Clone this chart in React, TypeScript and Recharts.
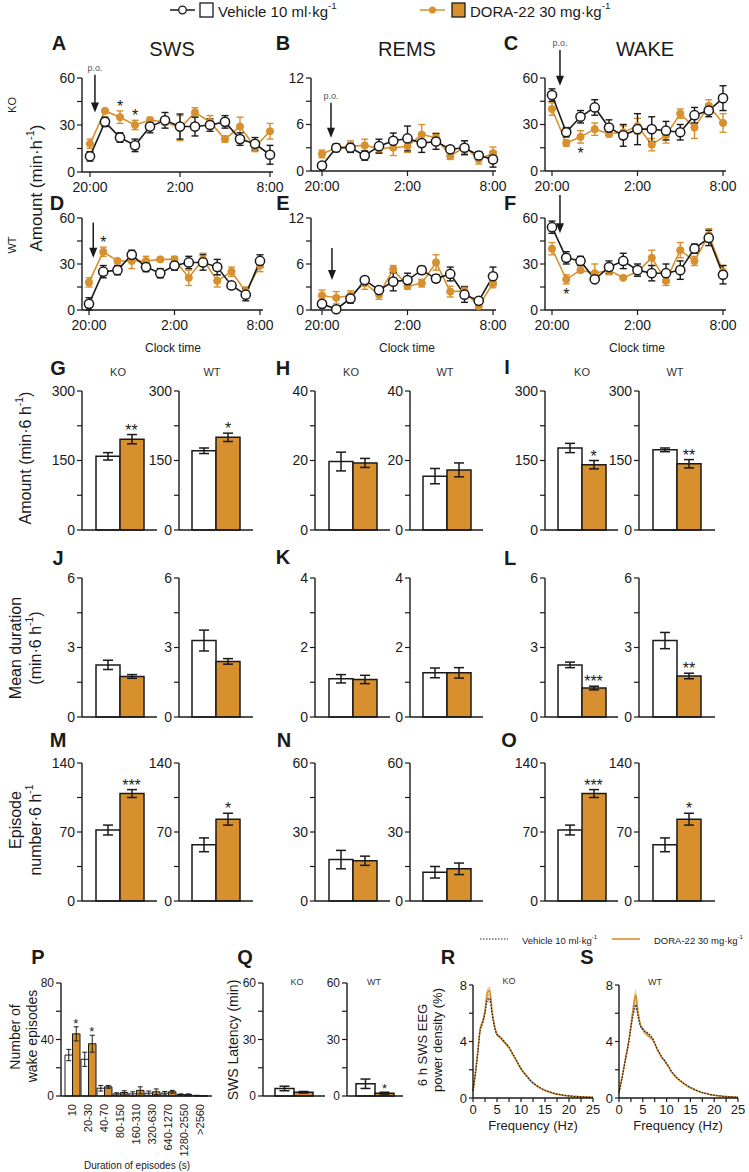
import React from 'react';
import { ComposedChart, Bar, Line, Area, XAxis, YAxis, ErrorBar, ReferenceLine } from 'recharts';

const FONT = '"Liberation Sans", Arial, Helvetica, sans-serif';
const ORANGE = '#d8902f';
const INK = '#1a1a1a';

// hourly bins, lights off 20:00 -> 8:00
const clockLabels = ['20:00', '21:00', '22:00', '23:00', '0:00', '1:00', '2:00', '3:00', '4:00', '5:00', '6:00', '7:00', '8:00'];
const clockTicks = [0, 6, 12];

// A  SWS KO (min/h)
const swsKoVeh = [10, 32, 22, 17, 29, 33, 29, 29, 30, 32, 21, 18, 11];
const swsKoVehSem = [3, 3, 3, 4, 4, 5, 8, 6, 4, 4, 4, 4, 6];
const swsKoDora = [18, 39, 35, 30, 33, 32, 28, 38, 32, 21, 29, 16, 26];
const swsKoDoraSem = [3, 1, 4, 3, 2, 2, 8, 3, 4, 2, 6, 3, 5];
const swsKoStars = ['', '', '*', '*', '', '', '', '', '', '', '', '', ''];

// B  REMS KO
const remsKoVeh = [0.7, 3.0, 3.0, 2.0, 3.2, 3.9, 4.2, 3.6, 3.8, 2.8, 3.0, 2.0, 1.5];
const remsKoVehSem = [0.2, 0.5, 0.6, 0.6, 0.9, 1.0, 1.6, 1.2, 1.0, 0.3, 0.9, 0.5, 1.0];
const remsKoDora = [2.2, 3.0, 3.2, 3.3, 2.9, 3.0, 3.2, 4.7, 4.3, 1.9, 3.1, 1.5, 2.3];
const remsKoDoraSem = [0.5, 0.4, 0.7, 0.8, 0.5, 1.0, 0.8, 1.3, 0.6, 0.4, 0.8, 0.6, 0.8];

// C  WAKE KO
const wakeKoVeh = [49, 25, 35, 41, 28, 23, 27, 27, 26, 25, 36, 39, 47];
const wakeKoVehSem = [4, 3, 4, 5, 5, 7, 10, 8, 6, 5, 5, 4, 8];
const wakeKoDora = [40, 18, 22, 27, 24, 25, 29, 17, 23, 37, 28, 42, 31];
const wakeKoDoraSem = [4, 2, 4, 4, 2, 4, 5, 4, 5, 3, 7, 4, 6];
const wakeKoStars = ['', '', '*', '', '', '', '', '', '', '', '', '', ''];

// D  SWS WT
const swsWtVeh = [4, 25, 26, 36, 28, 24, 29, 31, 31, 28, 16, 10, 32];
const swsWtVehSem = [4, 4, 3, 3, 3, 3, 3, 4, 5, 5, 2, 4, 4];
const swsWtDora = [18, 38, 32, 32, 32, 33, 33, 21, 33, 19, 25, 12, 29];
const swsWtDoraSem = [3, 3, 1, 5, 3, 1, 2, 5, 4, 4, 3, 3, 4];
const swsWtStars = ['', '*', '', '', '', '', '', '', '', '', '', '', ''];

// E  REMS WT
const remsWtVeh = [0.8, 0.1, 1.5, 3.9, 2.6, 3.7, 3.9, 5.2, 4.1, 4.7, 2.0, 1.2, 4.4];
const remsWtVehSem = [0.4, 0.1, 0.6, 0.3, 0.3, 1.2, 0.9, 0.5, 0.5, 0.9, 1.0, 0.3, 1.2];
const remsWtDora = [1.9, 1.6, 1.9, 3.5, 2.0, 5.3, 3.1, 3.5, 6.2, 2.4, 2.5, 0.5, 3.5];
const remsWtDoraSem = [0.7, 0.8, 0.6, 0.8, 0.6, 0.5, 0.4, 0.5, 1.0, 0.7, 0.6, 0.4, 0.6];

// F  WAKE WT
const wakeWtVeh = [54, 34, 32, 20, 28, 32, 26, 24, 24, 26, 40, 47, 23];
const wakeWtVehSem = [4, 4, 3, 2, 4, 5, 4, 5, 6, 6, 3, 5, 6];
const wakeWtDora = [40, 20, 26, 24, 26, 21, 25, 34, 19, 39, 32, 49, 25];
const wakeWtDoraSem = [4, 3, 1, 6, 3, 1, 3, 5, 3, 5, 3, 4, 4];
const wakeWtStars = ['', '*', '', '', '', '', '', '', '', '', '', '', ''];

const noStars = clockLabels.map(() => '');

// G-O  6 h totals, KO / WT
const swsAmount = [
  { g: 'KO', veh: 159, vehSem: 8, dora: 196, doraSem: 10, star: '**' },
  { g: 'WT', veh: 171, vehSem: 6, dora: 200, doraSem: 9, star: '*' },
];
const remsAmount = [
  { g: 'KO', veh: 19.7, vehSem: 2.7, dora: 19.3, doraSem: 1.3, star: '' },
  { g: 'WT', veh: 15.5, vehSem: 2.2, dora: 17.3, doraSem: 2.0, star: '' },
];
const wakeAmount = [
  { g: 'KO', veh: 177, vehSem: 10, dora: 141, doraSem: 9, star: '*' },
  { g: 'WT', veh: 173, vehSem: 4, dora: 143, doraSem: 9, star: '**' },
];
const swsDuration = [
  { g: 'KO', veh: 2.25, vehSem: 0.2, dora: 1.75, doraSem: 0.08, star: '' },
  { g: 'WT', veh: 3.3, vehSem: 0.45, dora: 2.4, doraSem: 0.12, star: '' },
];
const remsDuration = [
  { g: 'KO', veh: 1.1, vehSem: 0.12, dora: 1.08, doraSem: 0.12, star: '' },
  { g: 'WT', veh: 1.27, vehSem: 0.14, dora: 1.27, doraSem: 0.15, star: '' },
];
const wakeDuration = [
  { g: 'KO', veh: 2.25, vehSem: 0.12, dora: 1.25, doraSem: 0.08, star: '***' },
  { g: 'WT', veh: 3.3, vehSem: 0.35, dora: 1.77, doraSem: 0.12, star: '**' },
];
const swsEpisodes = [
  { g: 'KO', veh: 72, vehSem: 5, dora: 109, doraSem: 4, star: '***' },
  { g: 'WT', veh: 57, vehSem: 7, dora: 83, doraSem: 6, star: '*' },
];
const remsEpisodes = [
  { g: 'KO', veh: 18, vehSem: 4, dora: 17.5, doraSem: 2, star: '' },
  { g: 'WT', veh: 12.5, vehSem: 2.5, dora: 14, doraSem: 2.5, star: '' },
];
const wakeEpisodes = [
  { g: 'KO', veh: 72, vehSem: 5, dora: 109, doraSem: 4, star: '***' },
  { g: 'WT', veh: 57, vehSem: 7, dora: 83, doraSem: 6, star: '*' },
];

// P  wake episode duration histogram
const durationBins = ['10', '20-30', '40-70', '80-150', '160-310', '320-630', '640-1270', '1280-2550', '>2560'];
const binVeh = [29, 26, 5.5, 1.5, 1.5, 2, 2, 1, 0.3];
const binVehSem = [4, 5, 2, 0.8, 1.5, 1.5, 1.2, 0.5, 0.2];
const binDora = [44, 37, 6.5, 2.5, 4, 3, 3, 1, 0.1];
const binDoraSem = [5, 6, 1, 1.2, 2.5, 2, 1, 0.5, 0.1];
const binStars = ['*', '*', '', '', '', '', '', '', ''];

// Q  SWS latency (min)
const latency = [
  { g: 'KO', veh: 4, vehSem: 1.2, dora: 2, doraSem: 0.4, star: '' },
  { g: 'WT', veh: 6.5, vehSem: 2.5, dora: 1.5, doraSem: 0.5, star: '*' },
];

// R, S  SWS EEG spectra (% power)
const freqs = [0, 0.5, 1, 1.5, 2, 2.5, 3, 3.5, 4, 4.5, 5, 5.5, 6, 6.5, 7, 7.5, 8, 8.5, 9, 9.5, 10, 10.5, 11, 11.5, 12, 13, 14, 15, 16, 17, 18, 19, 20, 21, 22, 23, 24, 25];
const koVehPower = [0.5, 1.7, 3.2, 4.8, 5.3, 6.0, 7.0, 7.05, 5.9, 5.0, 4.5, 4.35, 4.2, 4.0, 3.8, 3.6, 3.3, 3.0, 2.7, 2.4, 2.1, 1.85, 1.65, 1.45, 1.25, 0.95, 0.72, 0.55, 0.42, 0.32, 0.25, 0.19, 0.15, 0.12, 0.1, 0.08, 0.06, 0.05];
const koDoraPower = [0.5, 1.8, 3.3, 4.9, 5.4, 6.2, 7.5, 7.6, 6.1, 5.1, 4.5, 4.35, 4.15, 3.95, 3.75, 3.55, 3.25, 2.95, 2.65, 2.35, 2.05, 1.8, 1.6, 1.4, 1.2, 0.92, 0.7, 0.53, 0.4, 0.31, 0.24, 0.18, 0.14, 0.11, 0.09, 0.07, 0.06, 0.05];
const koSem = [0.05, 0.1, 0.15, 0.2, 0.2, 0.25, 0.3, 0.3, 0.2, 0.15, 0.12, 0.1, 0.1, 0.1, 0.08, 0.08, 0.07, 0.07, 0.06, 0.06, 0.05, 0.05, 0.05, 0.04, 0.04, 0.03, 0.03, 0.03, 0.02, 0.02, 0.02, 0.02, 0.02, 0.01, 0.01, 0.01, 0.01, 0.01];
const wtVehPower = [0.4, 1.2, 2.1, 3.0, 3.9, 5.0, 6.0, 6.6, 5.8, 5.1, 4.9, 4.7, 4.6, 4.45, 4.25, 3.9, 3.5, 3.2, 2.9, 2.7, 2.45, 2.2, 1.9, 1.7, 1.5, 1.2, 0.95, 0.75, 0.58, 0.45, 0.34, 0.26, 0.2, 0.16, 0.12, 0.09, 0.07, 0.05];
const wtDoraPower = [0.4, 1.2, 2.1, 3.0, 3.9, 5.1, 6.4, 7.3, 6.1, 5.2, 4.85, 4.6, 4.45, 4.3, 4.15, 3.85, 3.45, 3.15, 2.85, 2.65, 2.4, 2.15, 1.85, 1.65, 1.45, 1.17, 0.92, 0.72, 0.56, 0.43, 0.33, 0.25, 0.19, 0.15, 0.11, 0.09, 0.07, 0.05];
const wtSem = [0.05, 0.1, 0.15, 0.2, 0.25, 0.3, 0.35, 0.4, 0.25, 0.15, 0.12, 0.12, 0.1, 0.1, 0.08, 0.08, 0.07, 0.07, 0.06, 0.06, 0.05, 0.05, 0.05, 0.04, 0.04, 0.03, 0.03, 0.03, 0.02, 0.02, 0.02, 0.02, 0.02, 0.01, 0.01, 0.01, 0.01, 0.01];

const axisStyle = { stroke: INK, strokeWidth: 1.4 };
const tickLineStyle = { stroke: INK, strokeWidth: 1.2 };
const majorOnly = (major: number[]) => (v: number) => (major.includes(v) ? String(v) : '');

// draws a significance star at a hidden line's point (dx shifts onto the DORA bar)
const starDot = (dx: number, below: boolean, size: number) => (props: any) => {
  const { cx, cy, payload, index } = props;
  if (!payload || !payload.star || cy == null || isNaN(cy)) return <g key={`s${index}`} />;
  return (
    <text key={`s${index}`} x={cx + dx} y={below ? cy + size : cy + 1} textAnchor="middle"
      fontSize={size} fontFamily={FONT} fill={INK}>{payload.star}</text>
  );
};

const arrowShape = (label?: string) => (props: any) => {
  const { x1, y1, x2, y2 } = props;
  return (
    <g>
      <line x1={x1} y1={y1} x2={x2} y2={y2 - 9} stroke={INK} strokeWidth={1.5} />
      <path d={`M${x2 - 4},${y2 - 10} L${x2 + 4},${y2 - 10} L${x2},${y2} Z`} fill={INK} />
      {label && (
        <text x={x1} y={y1 - 4} textAnchor="middle" fontSize={9} fontFamily={FONT} fill="#555">{label}</text>
      )}
    </g>
  );
};

function HourlyPanel(p: any) {
  const YW = 40, MT = 48, XH = 28, MR = 24;
  const data = clockLabels.map((_, i) => ({
    i,
    veh: p.veh[i], vehSem: p.vehSem[i],
    dora: p.dora[i], doraSem: p.doraSem[i],
    star: p.stars[i],
    starY: p.stars[i] ? (p.starBelow ? p.dora[i] - p.doraSem[i] : p.dora[i] + p.doraSem[i]) : null,
  }));
  return (
    <div style={{ position: 'absolute', left: p.axisX - YW, top: p.plotTop - MT }}>
      <ComposedChart width={YW + p.plotW + MR} height={MT + p.plotH + XH} data={data}
        margin={{ top: MT, right: MR, bottom: 0, left: 0 }}>
        <XAxis type="number" dataKey="i" domain={[0, 12]} ticks={clockTicks} interval={0}
          tickFormatter={(v: number) => clockLabels[v]} padding={{ left: p.padL, right: p.padR }}
          height={XH} axisLine={axisStyle} tickLine={tickLineStyle} tickSize={5} tickMargin={5}
          tick={{ fill: INK, fontSize: 14, fontFamily: FONT }} />
        <YAxis width={YW} domain={[0, p.yMax]} ticks={p.yTicks} interval={0}
          tickFormatter={majorOnly(p.yMajor)} axisLine={axisStyle} tickLine={tickLineStyle} tickSize={5}
          tick={{ fill: INK, fontSize: 14, fontFamily: FONT }} />
        <ReferenceLine segment={[{ x: p.arrow.x, y: p.arrow.from }, { x: p.arrow.x, y: p.arrow.to }]}
          ifOverflow="visible" shape={arrowShape(p.arrow.label)} />
        <Line dataKey="dora" stroke={ORANGE} strokeWidth={1.6} isAnimationActive={false}
          dot={{ r: 3.6, fill: ORANGE, stroke: ORANGE, strokeWidth: 1 }} activeDot={false}>
          <ErrorBar dataKey="doraSem" width={3.5} stroke={ORANGE} strokeWidth={1.4} />
        </Line>
        <Line dataKey="veh" stroke={INK} strokeWidth={1.6} isAnimationActive={false}
          dot={{ r: 4.6, fill: '#fff', stroke: INK, strokeWidth: 1.5 }} activeDot={false}>
          <ErrorBar dataKey="vehSem" width={3.5} stroke={INK} strokeWidth={1.4} />
        </Line>
        <Line dataKey="starY" stroke="none" isAnimationActive={false} activeDot={false}
          dot={starDot(0, !!p.starBelow, 16)} />
      </ComposedChart>
    </div>
  );
}

function PairPanel(p: any) {
  const YW = 40, MT = 30, MR = 12, XH = 12;
  const barSize = p.barSize || 24;
  const r = p.row;
  const data = [{ ...r, starY: r.star ? r.dora + r.doraSem : null }];
  return (
    <div style={{ position: 'absolute', left: p.axisX - YW, top: p.plotTop - MT }}>
      <ComposedChart width={YW + p.plotW + MR} height={MT + p.plotH + XH} data={data}
        margin={{ top: MT, right: MR, bottom: 0, left: 0 }} barGap={0} barSize={barSize}>
        <XAxis dataKey="g" type="category" tick={false} tickLine={false} height={XH} axisLine={axisStyle} />
        <YAxis width={YW} domain={[0, p.yMax]} ticks={p.yTicks} interval={0}
          tickFormatter={majorOnly(p.yMajor)} axisLine={axisStyle} tickLine={tickLineStyle} tickSize={5}
          tick={{ fill: INK, fontSize: p.fontSize || 14, fontFamily: FONT }} />
        <Bar dataKey="veh" fill="#fff" stroke={INK} strokeWidth={1.5} isAnimationActive={false}>
          <ErrorBar dataKey="vehSem" width={5} stroke={INK} strokeWidth={1.5} />
        </Bar>
        <Bar dataKey="dora" fill={ORANGE} stroke={INK} strokeWidth={1.5} isAnimationActive={false}>
          <ErrorBar dataKey="doraSem" width={5} stroke={INK} strokeWidth={1.5} />
        </Bar>
        <Line dataKey="starY" stroke="none" isAnimationActive={false} activeDot={false}
          dot={starDot(barSize / 2, false, p.starSize || 16)} />
      </ComposedChart>
    </div>
  );
}

const RotatedTick = (props: any) => {
  const { x, y, payload } = props;
  return (
    <text x={x} y={y} transform={`rotate(-90 ${x} ${y})`} textAnchor="end" dy="0.35em"
      fontSize={11} fontFamily={FONT} fill={INK}>{payload.value}</text>
  );
};

function HistogramPanel() {
  const YW = 40, MT = 30, MR = 10, XH = 62;
  const axisX = 61, plotTop = 983, plotW = 151, plotH = 113;
  const data = durationBins.map((bin, i) => ({
    bin, veh: binVeh[i], vehSem: binVehSem[i], dora: binDora[i], doraSem: binDoraSem[i],
    star: binStars[i], starY: binStars[i] ? binDora[i] + binDoraSem[i] : null,
  }));
  return (
    <div style={{ position: 'absolute', left: axisX - YW, top: plotTop - MT }}>
      <ComposedChart width={YW + plotW + MR} height={MT + plotH + XH} data={data}
        margin={{ top: MT, right: MR, bottom: 0, left: 0 }} barGap={0} barSize={7.5}>
        <XAxis dataKey="bin" type="category" interval={0} tick={<RotatedTick />} tickLine={false}
          height={XH} axisLine={axisStyle} padding={{ left: 3, right: 4 }} />
        <YAxis width={YW} domain={[0, 80]} ticks={[0, 20, 40, 60, 80]} interval={0}
          tickFormatter={majorOnly([0, 40, 80])} axisLine={axisStyle} tickLine={tickLineStyle} tickSize={5}
          tick={{ fill: INK, fontSize: 12, fontFamily: FONT }} />
        <Bar dataKey="veh" fill="#fff" stroke={INK} strokeWidth={1} isAnimationActive={false}>
          <ErrorBar dataKey="vehSem" width={2.5} stroke={INK} strokeWidth={1} />
        </Bar>
        <Bar dataKey="dora" fill={ORANGE} stroke={INK} strokeWidth={1} isAnimationActive={false}>
          <ErrorBar dataKey="doraSem" width={2.5} stroke={INK} strokeWidth={1} />
        </Bar>
        <Line dataKey="starY" stroke="none" isAnimationActive={false} activeDot={false}
          dot={starDot(3.75, false, 13)} />
      </ComposedChart>
    </div>
  );
}

function SpectrumPanel(p: any) {
  const YW = 30, MT = 12, MR = 14, XH = 24;
  const plotTop = 985, plotH = 113;
  const data = freqs.map((f, i) => ({
    f, veh: p.veh[i], dora: p.dora[i],
    vehBand: [p.veh[i] - p.sem[i], p.veh[i] + p.sem[i]],
    doraBand: [p.dora[i] - p.sem[i], p.dora[i] + p.sem[i]],
  }));
  const xTicks = [0, 2.5, 5, 7.5, 10, 12.5, 15, 17.5, 20, 22.5, 25];
  return (
    <div style={{ position: 'absolute', left: p.axisX - YW, top: plotTop - MT }}>
      <ComposedChart width={YW + p.plotW + MR} height={MT + plotH + XH} data={data}
        margin={{ top: MT, right: MR, bottom: 0, left: 0 }}>
        <XAxis type="number" dataKey="f" domain={[0, 25]} ticks={xTicks} interval={0}
          tickFormatter={(v: number) => (v % 5 === 0 ? String(v) : '')} height={XH}
          axisLine={axisStyle} tickLine={tickLineStyle} tickSize={4} tickMargin={3}
          tick={{ fill: INK, fontSize: 13, fontFamily: FONT }} />
        <YAxis width={YW} domain={[0, 8]} ticks={[0, 2, 4, 6, 8]} interval={0}
          tickFormatter={majorOnly([0, 4, 8])} axisLine={axisStyle} tickLine={tickLineStyle} tickSize={4}
          tick={{ fill: INK, fontSize: 13, fontFamily: FONT }} />
        <Area dataKey="vehBand" type="monotone" stroke="none" fill="#888" fillOpacity={0.35} isAnimationActive={false} />
        <Area dataKey="doraBand" type="monotone" stroke="none" fill={ORANGE} fillOpacity={0.45} isAnimationActive={false} />
        <Line dataKey="dora" type="monotone" stroke={ORANGE} strokeWidth={1.6} dot={false} activeDot={false} isAnimationActive={false} />
        <Line dataKey="veh" type="monotone" stroke="#222" strokeWidth={1.3} strokeDasharray="1.5 1.5" dot={false} activeDot={false} isAnimationActive={false} />
      </ComposedChart>
    </div>
  );
}

const T = ({ x, y, size = 13, children, anchor = 'middle', weight = 400, rotate = false, fill = INK }: any) => (
  <text x={x} y={y} fontSize={size} fontFamily={FONT} fontWeight={weight} textAnchor={anchor} fill={fill}
    dominantBaseline="central" transform={rotate ? `rotate(-90 ${x} ${y})` : undefined}>{children}</text>
);
const Sup = ({ size, text = '-1', after }: any) => (
  <>
    <tspan dy={-size * 0.38} fontSize={size * 0.65}>{text}</tspan>
    {after !== undefined && <tspan dy={size * 0.38}>{after}</tspan>}
  </>
);

// bar-panel column positions: [axis x, plot width]
const barCols = [[82, 75], [179, 74], [315, 75], [410, 73], [545, 73], [639, 76]];
const barRows = [[391, 139], [578, 139], [763, 138]];

export default function App() {
  const hourlyGeom = {
    A: { axisX: 82, plotTop: 78, plotW: 191, plotH: 94, padL: 8, padR: 3 },
    B: { axisX: 311, plotTop: 78, plotW: 185, plotH: 93, padL: 11, padR: 3 },
    C: { axisX: 545, plotTop: 78, plotW: 181, plotH: 93, padL: 7, padR: 3 },
    D: { axisX: 82, plotTop: 218, plotW: 181, plotH: 92, padL: 7, padR: 3 },
    E: { axisX: 311, plotTop: 218, plotW: 185, plotH: 92, padL: 11, padR: 3 },
    F: { axisX: 545, plotTop: 218, plotW: 181, plotH: 92, padL: 7, padR: 3 },
  };
  const big = { yMax: 60, yTicks: [0, 15, 30, 45, 60], yMajor: [0, 30, 60] };
  const small = { yMax: 12, yTicks: [0, 3, 6, 9, 12], yMajor: [0, 6, 12] };

  const barScales = [
    [{ yMax: 300, yTicks: [0, 75, 150, 225, 300], yMajor: [0, 150, 300] },
     { yMax: 40, yTicks: [0, 10, 20, 30, 40], yMajor: [0, 20, 40] },
     { yMax: 300, yTicks: [0, 75, 150, 225, 300], yMajor: [0, 150, 300] }],
    [{ yMax: 6, yTicks: [0, 1.5, 3, 4.5, 6], yMajor: [0, 3, 6] },
     { yMax: 4, yTicks: [0, 1, 2, 3, 4], yMajor: [0, 2, 4] },
     { yMax: 6, yTicks: [0, 1.5, 3, 4.5, 6], yMajor: [0, 3, 6] }],
    [{ yMax: 140, yTicks: [0, 35, 70, 105, 140], yMajor: [0, 70, 140] },
     { yMax: 60, yTicks: [0, 15, 30, 45, 60], yMajor: [0, 30, 60] },
     { yMax: 140, yTicks: [0, 35, 70, 105, 140], yMajor: [0, 70, 140] }],
  ];
  const barData = [
    [swsAmount, remsAmount, wakeAmount],
    [swsDuration, remsDuration, wakeDuration],
    [swsEpisodes, remsEpisodes, wakeEpisodes],
  ];

  return (
    <div style={{ position: 'absolute', left: 0, top: 0, width: 749, height: 1172, background: '#fff', overflow: 'hidden' }}>
      <svg width={749} height={1172} style={{ position: 'absolute', left: 0, top: 0 }}>
        {/* top legend */}
        <line x1={170} y1={10} x2={195} y2={10} stroke={INK} strokeWidth={1.5} />
        <circle cx={182.5} cy={10} r={3.8} fill="#fff" stroke={INK} strokeWidth={1.3} />
        <rect x={200} y={3} width={13} height={14} fill="#fff" stroke={INK} strokeWidth={1.3} />
        <T x={218} y={11} size={15} anchor="start">Vehicle 10 ml·kg<Sup size={15} /></T>
        <line x1={420} y1={10} x2={445} y2={10} stroke={ORANGE} strokeWidth={1.5} />
        <circle cx={432.5} cy={10} r={3.5} fill={ORANGE} />
        <rect x={452} y={3} width={13} height={14} fill={ORANGE} stroke={INK} strokeWidth={1.3} />
        <T x={470} y={11} size={15} anchor="start">DORA-22 30 mg·kg<Sup size={15} /></T>

        {/* panel letters */}
        {[['A', 59, 43], ['B', 283, 43], ['C', 511, 43], ['D', 57, 203], ['E', 283, 203], ['F', 510, 203],
          ['G', 58, 368], ['H', 283, 368], ['I', 507, 367], ['J', 58, 558], ['K', 283, 557], ['L', 510, 558],
          ['M', 58, 740], ['N', 284, 740], ['O', 509, 740], ['P', 38, 957], ['Q', 245, 957], ['R', 448, 957], ['S', 587, 957]]
          .map(([l, x, y]) => <T key={l as string} x={x} y={y} size={20} weight={700}>{l}</T>)}

        <T x={172} y={49} size={20}>SWS</T>
        <T x={407} y={49} size={20}>REMS</T>
        <T x={645} y={49} size={20}>WAKE</T>

        <T x={12} y={105} size={11} rotate>KO</T>
        <T x={12} y={245} size={11} rotate>WT</T>
        <T x={36} y={188} size={17} rotate>Amount (min·h<Sup size={17} after=")" /></T>
        <T x={173} y={348} size={12}>Clock time</T>
        <T x={407} y={348} size={12}>Clock time</T>
        <T x={637} y={348} size={12}>Clock time</T>

        {/* genotype labels over bar panels */}
        {[118, 212, 351, 445, 582, 675].map((x, i) => (
          <T key={`g${i}`} x={x} y={372} size={11} fill="#333">{i % 2 === 0 ? 'KO' : 'WT'}</T>
        ))}
        <T x={25} y={458} size={16} rotate>Amount (min·6 h<Sup size={16} after=")" /></T>
        <T x={15} y={648} size={16} rotate>Mean duration</T>
        <T x={35} y={648} size={16} rotate>(min·6 h<Sup size={16} after=")" /></T>
        <T x={15} y={820} size={16} rotate>Episode</T>
        <T x={35} y={830} size={16} rotate>number·6 h<Sup size={16} /></T>

        {/* bottom row */}
        <T x={15} y={1037} size={14} rotate>Number of</T>
        <T x={32} y={1036} size={14} rotate>wake episodes</T>
        <T x={137} y={1165} size={10}>Duration of episodes (s)</T>
        <T x={233} y={1040} size={14} rotate>SWS Latency (min)</T>
        <T x={297} y={982} size={9} fill="#333">KO</T>
        <T x={374} y={982} size={9} fill="#333">WT</T>
        <T x={422} y={1045} size={13} rotate>6 h SWS EEG</T>
        <T x={437} y={1040} size={13} rotate>power density (%)</T>
        <T x={509} y={981} size={9} fill="#333">KO</T>
        <T x={655} y={982} size={9} fill="#333">WT</T>
        <T x={533} y={1125} size={13}>Frequency (Hz)</T>
        <T x={678} y={1125} size={13}>Frequency (Hz)</T>

        {/* spectra legend */}
        <line x1={480} y1={939} x2={508} y2={939} stroke="#222" strokeWidth={1.2} strokeDasharray="1.5 1.5" />
        <T x={522} y={940} size={9.5} anchor="start">Vehicle 10 ml·kg<Sup size={9.5} /></T>
        <line x1={612} y1={939} x2={640} y2={939} stroke={ORANGE} strokeWidth={1.6} />
        <T x={654} y={940} size={9.5} anchor="start">DORA-22 30 mg·kg<Sup size={9.5} /></T>
      </svg>

      <HourlyPanel {...hourlyGeom.A} {...big} veh={swsKoVeh} vehSem={swsKoVehSem} dora={swsKoDora} doraSem={swsKoDoraSem}
        stars={swsKoStars} arrow={{ x: 0.33, from: 62, to: 38, label: 'p.o.' }} />
      <HourlyPanel {...hourlyGeom.B} {...small} veh={remsKoVeh} vehSem={remsKoVehSem} dora={remsKoDora} doraSem={remsKoDoraSem}
        stars={noStars} arrow={{ x: 0.63, from: 8.8, to: 4.3, label: 'p.o.' }} />
      <HourlyPanel {...hourlyGeom.C} {...big} veh={wakeKoVeh} vehSem={wakeKoVehSem} dora={wakeKoDora} doraSem={wakeKoDoraSem}
        stars={wakeKoStars} starBelow arrow={{ x: 0.56, from: 78, to: 55, label: 'p.o.' }} />
      <HourlyPanel {...hourlyGeom.D} {...big} veh={swsWtVeh} vehSem={swsWtVehSem} dora={swsWtDora} doraSem={swsWtDoraSem}
        stars={swsWtStars} arrow={{ x: 0.3, from: 57, to: 34 }} />
      <HourlyPanel {...hourlyGeom.E} {...small} veh={remsWtVeh} vehSem={remsWtVehSem} dora={remsWtDora} doraSem={remsWtDoraSem}
        stars={noStars} arrow={{ x: 0.7, from: 8.1, to: 3.9 }} />
      <HourlyPanel {...hourlyGeom.F} {...big} veh={wakeWtVeh} vehSem={wakeWtVehSem} dora={wakeWtDora} doraSem={wakeWtDoraSem}
        stars={wakeWtStars} starBelow arrow={{ x: 0.56, from: 75, to: 50 }} />

      {barRows.map(([top, h], ri) =>
        barCols.map(([ax, w], ci) => {
          const state = Math.floor(ci / 2);
          return (
            <PairPanel key={`b${ri}-${ci}`} axisX={ax} plotW={w} plotTop={top} plotH={h}
              {...barScales[ri][state]} row={barData[ri][state][ci % 2]} />
          );
        })
      )}

      <HistogramPanel />
      <PairPanel axisX={263} plotW={62} plotTop={983} plotH={113} yMax={60} yTicks={[0, 15, 30, 45, 60]} yMajor={[0, 30, 60]}
        row={latency[0]} barSize={19} fontSize={12} starSize={13} />
      <PairPanel axisX={347} plotW={56} plotTop={983} plotH={113} yMax={60} yTicks={[0, 15, 30, 45, 60]} yMajor={[0, 30, 60]}
        row={latency[1]} barSize={19} fontSize={12} starSize={13} />
      <SpectrumPanel axisX={473} plotW={120} veh={koVehPower} dora={koDoraPower} sem={koSem} />
      <SpectrumPanel axisX={619} plotW={119} veh={wtVehPower} dora={wtDoraPower} sem={wtSem} />
    </div>
  );
}
